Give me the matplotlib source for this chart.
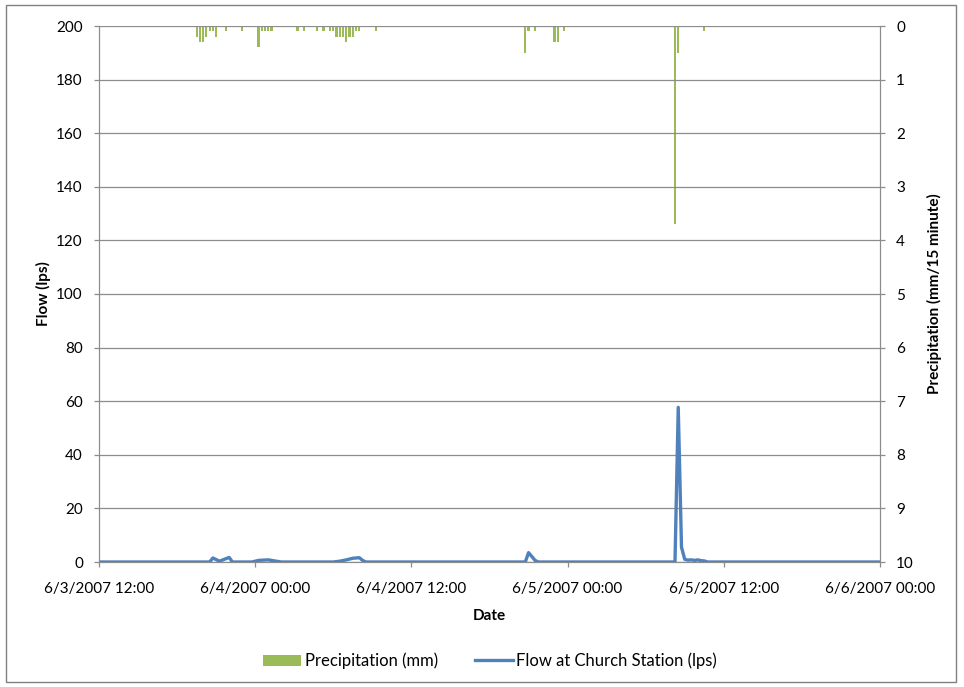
import pandas as pd
import matplotlib
matplotlib.use("Agg")
import matplotlib.pyplot as plt
import matplotlib.dates as mdates
from matplotlib.patches import Rectangle

# Precipitation, 15-minute totals (mm)
precip_times = [
    "2007-06-03 19:30", "2007-06-03 19:45", "2007-06-03 20:00", "2007-06-03 20:15",
    "2007-06-03 20:30", "2007-06-03 20:45", "2007-06-03 21:00", "2007-06-03 21:45",
    "2007-06-03 23:00", "2007-06-04 00:15", "2007-06-04 00:30", "2007-06-04 00:45",
    "2007-06-04 01:00", "2007-06-04 01:15", "2007-06-04 03:15", "2007-06-04 03:45",
    "2007-06-04 04:45", "2007-06-04 05:15", "2007-06-04 05:45", "2007-06-04 06:00",
    "2007-06-04 06:15", "2007-06-04 06:30", "2007-06-04 06:45", "2007-06-04 07:00",
    "2007-06-04 07:15", "2007-06-04 07:30", "2007-06-04 07:45", "2007-06-04 08:00",
    "2007-06-04 09:15", "2007-06-04 20:45", "2007-06-04 21:00", "2007-06-04 21:30",
    "2007-06-04 23:00", "2007-06-04 23:15", "2007-06-04 23:45", "2007-06-05 08:15",
    "2007-06-05 08:30", "2007-06-05 10:30",
]
precip_mm = [
    0.2, 0.3, 0.3, 0.2,
    0.1, 0.1, 0.2, 0.1,
    0.1, 0.4, 0.1, 0.1,
    0.1, 0.1, 0.1, 0.1,
    0.1, 0.1, 0.1, 0.1,
    0.2, 0.2, 0.2, 0.3,
    0.2, 0.2, 0.1, 0.1,
    0.1, 0.5, 0.1, 0.1,
    0.3, 0.3, 0.1, 3.7,
    0.5, 0.1,
]

# Flow at Church Station (lps)
flow_times = [
    "2007-06-03 12:00", "2007-06-03 20:30", "2007-06-03 20:45", "2007-06-03 21:15",
    "2007-06-03 22:00", "2007-06-03 22:15", "2007-06-03 23:45", "2007-06-04 00:15",
    "2007-06-04 01:00", "2007-06-04 01:30", "2007-06-04 02:00", "2007-06-04 06:00",
    "2007-06-04 06:30", "2007-06-04 07:00", "2007-06-04 07:30", "2007-06-04 08:00",
    "2007-06-04 08:15", "2007-06-04 08:30", "2007-06-04 20:45", "2007-06-04 21:00",
    "2007-06-04 21:30", "2007-06-04 21:45", "2007-06-05 08:15", "2007-06-05 08:30",
    "2007-06-05 08:45", "2007-06-05 09:00", "2007-06-05 09:15", "2007-06-05 09:30",
    "2007-06-05 09:45", "2007-06-05 10:00", "2007-06-05 10:15", "2007-06-05 10:30",
    "2007-06-05 10:45", "2007-06-06 00:00",
]
flow_lps = [
    0, 0, 1.5, 0.3,
    1.7, 0, 0, 0.6,
    0.8, 0.4, 0, 0,
    0.3, 0.8, 1.4, 1.6,
    0.6, 0, 0, 3.5,
    0.6, 0, 0, 57.7,
    5.5, 1.0, 0.7, 0.8,
    0.6, 0.8, 0.5, 0.4,
    0, 0,
]

xtick_times = ["2007-06-03 12:00", "2007-06-04 00:00", "2007-06-04 12:00",
               "2007-06-05 00:00", "2007-06-05 12:00", "2007-06-06 00:00"]

GREEN = "#9BBB59"
BLUE = "#4F81BD"
GRID = "#8C8C8C"

plt.rcParams["font.family"] = ["Lato", "DejaVu Sans"]
plt.rcParams["font.size"] = 11

fig = plt.figure(figsize=(9.64, 6.87), dpi=100)
fig.patches.append(Rectangle((6 / 964, 5 / 687), 950 / 964, 677 / 687,
                             transform=fig.transFigure, fill=False,
                             edgecolor="#808080", linewidth=1))

ax = fig.add_axes([99 / 964, 1 - 562 / 687, 781 / 964, 536 / 687])
ax2 = ax.twinx()

pt = pd.to_datetime(precip_times)
ax2.bar(pt, precip_mm, width=10 / 1440, align="center", color=GREEN,
        label="Precipitation (mm)")
ax2.set_ylim(10, 0)
ax2.set_yticks(range(0, 11))
ax2.set_ylabel("Precipitation (mm/15 minute)", fontweight="bold", labelpad=9.5)

ft = pd.to_datetime(flow_times)
ax.plot(ft, flow_lps, color=BLUE, linewidth=2.4, solid_joinstyle="round",
        label="Flow at Church Station (lps)")
ax.set_ylim(0, 200)
ax.set_yticks(range(0, 201, 20))
ax.set_ylabel("Flow (lps)", fontweight="bold", labelpad=3.5)
ax.set_xlabel("Date", fontweight="bold", labelpad=9)

xt = pd.to_datetime(xtick_times)
ax.set_xlim(xt[0], xt[-1])
ax.set_xticks(xt)
ax.xaxis.set_major_formatter(mdates.DateFormatter("%-m/%-d/%Y %H:%M"))

ax.grid(axis="y", color=GRID, linewidth=0.9)
ax.set_axisbelow(True)
ax.set_zorder(ax2.get_zorder() + 1)
ax.patch.set_visible(False)

for a in (ax, ax2):
    a.spines["top"].set_visible(False)
    for s in ("left", "right", "bottom"):
        a.spines[s].set_color(GRID)
    a.tick_params(colors=GRID, labelcolor="black", length=3.6, width=0.9)
ax.tick_params(axis="y", pad=8)
ax2.tick_params(axis="y", pad=8)
ax.tick_params(axis="x", pad=11)

h1, l1 = ax2.get_legend_handles_labels()
h2, l2 = ax.get_legend_handles_labels()
fig.legend(h1 + h2, l1 + l2, loc="center", bbox_to_anchor=(490 / 964, 1 - 661 / 687),
           ncol=2, frameon=False, columnspacing=2.2, handlelength=2.3,
           handletextpad=0.2, fontsize=12)

fig.savefig("out.png", dpi=100)
